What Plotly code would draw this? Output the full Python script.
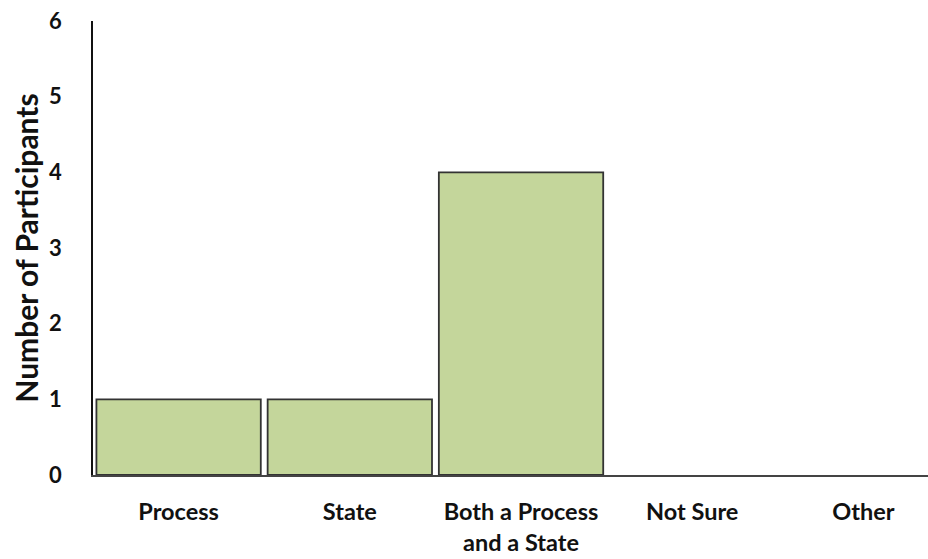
import plotly.graph_objects as go

categories = ["Process", "State", "Both a Process<br>and a State", "Not Sure", "Other"]
participants = [1, 1, 4, 0, 0]
y_ticks = [0, 1, 2, 3, 4, 5, 6]

# empty categories get no outline so the baseline stays a single clean line
outline_widths = [1.8 if v > 0 else 0 for v in participants]

fig = go.Figure(
    go.Bar(
        x=list(range(len(categories))),
        y=participants,
        marker=dict(color="#C4D69B", line=dict(color="#333333", width=outline_widths)),
        hoverinfo="skip",
    )
)

fig.update_layout(
    width=928,
    height=559,
    margin=dict(l=93, r=0, t=21, b=84),
    paper_bgcolor="white",
    plot_bgcolor="white",
    bargap=0.04,
    showlegend=False,
    font=dict(family="Lato", color="#111111"),
)

fig.update_xaxes(
    range=[-0.5, 4.377],
    tickmode="array",
    tickvals=list(range(len(categories))),
    ticktext=[f"<b>{c}</b>".replace("<br>", "</b><br><b>") for c in categories],
    tickfont=dict(size=23.5, family="Lato"),
    showline=True,
    linecolor="#444444",
    linewidth=1.5,
    showgrid=False,
    zeroline=False,
    ticks="",
    ticklabelstandoff=15,
)

fig.update_yaxes(
    range=[0, 6],
    tickmode="array",
    tickvals=y_ticks,
    ticktext=[f"<b>{v}</b>" for v in y_ticks],
    tickfont=dict(size=22, family="Lato"),
    showline=True,
    linecolor="#111111",
    linewidth=1.8,
    showgrid=False,
    zeroline=False,
    ticks="",
    ticklabelstandoff=25,
    title=dict(text="<b>Number of Participants</b>", font=dict(size=30, family="Lato"), standoff=1),
)

fig.write_html("out.html")
